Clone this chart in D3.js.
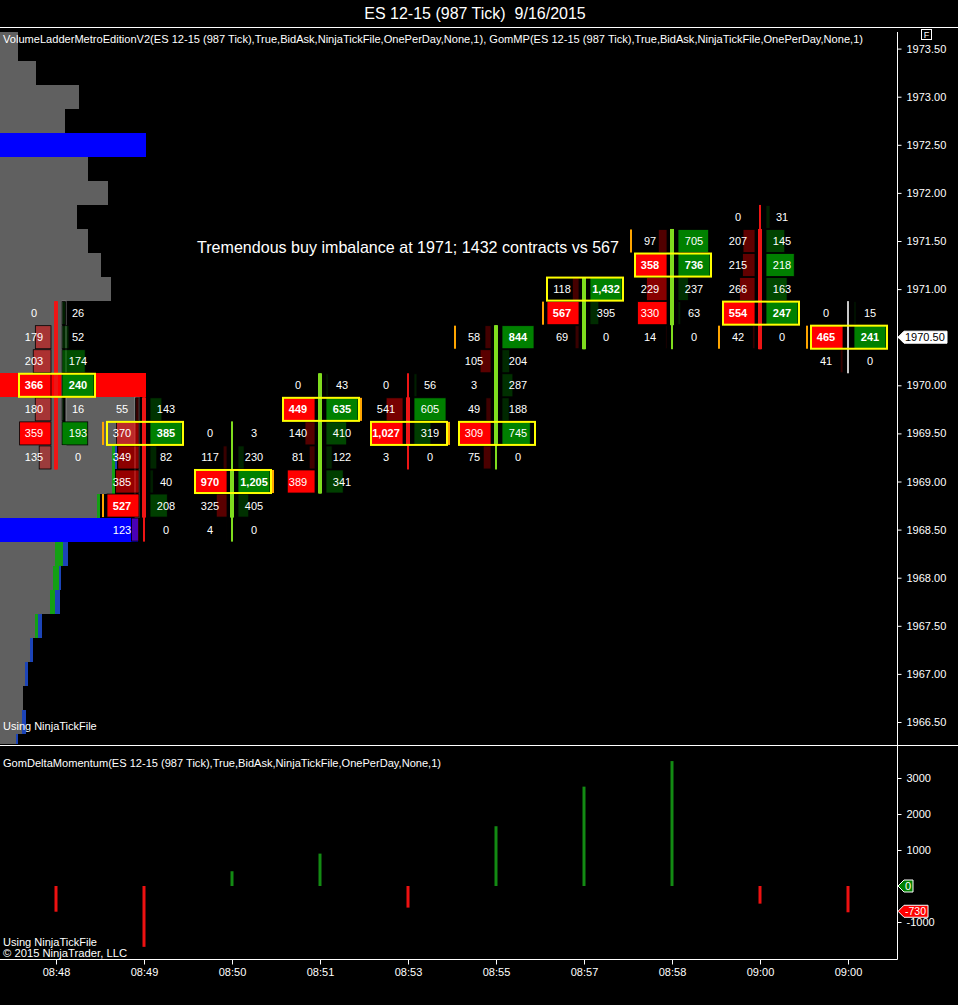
<!DOCTYPE html>
<html><head><meta charset="utf-8">
<script src="https://cdn.jsdelivr.net/npm/d3@7"></script>
<style>html,body{margin:0;padding:0;background:#000;overflow:hidden}</style>
</head><body><svg id="c" width="958" height="1005"></svg>
<script>
// ---------------- DATA ----------------
const titleText = "ES 12-15 (987 Tick)\u00a0\u00a09/16/2015";
const timeLabels = ["08:48","08:49","08:50","08:51","08:53","08:55","08:57","08:58","09:00","09:00"];
const priceTicks = [1973.5,1973,1972.5,1972,1971.5,1971,1970.5,1970,1969.5,1969,1968.5,1968,1967.5,1967,1966.5];
const deltaTicks = [3000,2000,1000,-1000];

const candleOpen  = [1970.75,1969.75,1968.75,1969.00,1969.75,1969.50,1970.50,1970.75,1971.50,1970.50];
const candleHigh  = [1970.75,1969.75,1969.50,1970.00,1970.00,1970.50,1971.00,1971.50,1971.75,1970.75];
const candleLow   = [1969.25,1968.50,1968.50,1969.00,1969.25,1969.25,1970.50,1970.50,1970.50,1970.25];
const candleClose = [1969.25,1968.75,1969.00,1970.00,1969.50,1970.50,1971.00,1971.50,1970.50,1970.50];

// [price, bid volume, ask volume, flags]  R/G = imbalance highlight, r/g = bold
const ladder0 = [[1970.75,0,26,""],[1970.50,179,52,""],[1970.25,203,174,""],[1970.00,366,240,"RrGg"],[1969.75,180,16,""],[1969.50,359,193,"RG"],[1969.25,135,0,""]];
const ladder1 = [[1969.75,55,143,""],[1969.50,370,385,"Gg"],[1969.25,349,82,""],[1969.00,385,40,""],[1968.75,527,208,"Rr"],[1968.50,123,0,""]];
const ladder2 = [[1969.50,0,3,""],[1969.25,117,230,""],[1969.00,970,1205,"RrGg"],[1968.75,325,405,""],[1968.50,4,0,""]];
const ladder3 = [[1970.00,0,43,""],[1969.75,449,635,"RrGg"],[1969.50,140,410,""],[1969.25,81,122,""],[1969.00,389,341,"R"]];
const ladder4 = [[1970.00,0,56,""],[1969.75,541,605,"G"],[1969.50,1027,319,"Rr"],[1969.25,3,0,""]];
const ladder5 = [[1970.50,58,844,"Gg"],[1970.25,105,204,""],[1970.00,3,287,""],[1969.75,49,188,""],[1969.50,309,745,"RG"],[1969.25,75,0,""]];
const ladder6 = [[1971.00,118,1432,"Gg"],[1970.75,567,395,"Rr"],[1970.50,69,0,""]];
const ladder7 = [[1971.50,97,705,"G"],[1971.25,358,736,"RrGg"],[1971.00,229,237,""],[1970.75,330,63,"R"],[1970.50,14,0,""]];
const ladder8 = [[1971.75,0,31,""],[1971.50,207,145,""],[1971.25,215,218,"G"],[1971.00,266,163,""],[1970.75,554,247,"RrGg"],[1970.50,42,0,""]];
const ladder9 = [[1970.75,0,15,""],[1970.50,465,241,"RrGg"],[1970.25,41,0,""]];
const ladders = [ladder0,ladder1,ladder2,ladder3,ladder4,ladder5,ladder6,ladder7,ladder8,ladder9];

const boxPrices = [1970.00,1969.50,1969.00,1969.75,1969.50,1969.50,1971.00,1971.25,1970.75,1970.50];
// [bar, price, side]
const markers = [[1,1969.50,"bid"],[1,1968.75,"bid"],[2,1969.00,"ask"],[3,1969.75,"ask"],[4,1969.50,"ask"],
                 [5,1970.50,"bid"],[6,1970.75,"bid"],[7,1971.50,"bid"],[8,1970.50,"bid"],[9,1970.50,"bid"]];
// [bar, top price, bottom price, side]
const ladderBodies = [[0,1970.75,1969.50,"ask"],[1,1969.75,1968.75,"bid"]];

// volume profile
const profilePrices = [1973.75,1973.5,1973.25,1973,1972.75,1972.5,1972.25,1972,1971.75,1971.5,1971.25,1971,1970.75,1970.5,1970.25,1970,
                       1969.75,1969.5,1969.25,1969,1968.75,1968.5,1968.25,1968,1967.75,1967.5,1967.25,1967,1966.75,1966.5,1966.25];
const profileVolume = [900,900,1800,3950,3250,7300,4400,5400,3850,4400,5050,5550,3200,3200,3200,7300,
                       6750,6900,5600,5600,4850,6900,2750,2650,2500,1750,1500,1250,1150,1100,800];
const profileGreen  = [0,0,0,0,0,0,0,0,0,0,0,0,0,0,0,0, 0,0,150,150,150,0,400,300,250,150,0,0,0,0,0];
const profileBlue   = [0,0,0,0,0,0,0,0,0,0,0,0,0,0,0,0, 0,0,100,0,0,0,250,100,250,200,150,150,0,200,100];
const pocPrice = 1970.00;
const valueAreaPrices = [1972.50,1968.50];

const deltaValues = [-714,-1690,410,900,-600,1660,2760,3470,-490,-730];
const lastPrice = 1970.50;

const indicatorLabel = "VolumeLadderMetroEditionV2(ES 12-15 (987 Tick),True,BidAsk,NinjaTickFile,OnePerDay,None,1), GomMP(ES 12-15 (987 Tick),True,BidAsk,NinjaTickFile,OnePerDay,None,1)";
const deltaLabel = "GomDeltaMomentum(ES 12-15 (987 Tick),True,BidAsk,NinjaTickFile,OnePerDay,None,1)";
const noteText = "Tremendous buy imbalance at 1971; 1432 contracts vs 567";

// ---------------- DRAW ----------------
const W = 958, H = 1005, FONT = "'Liberation Sans', Arial, sans-serif";
const svg = d3.select("#c");
svg.append("rect").attr("width", W).attr("height", H).attr("fill", "#000");

const x = d3.scalePoint().domain(d3.range(timeLabels.length)).range([12, 892]).padding(0.5);
const y = d3.scaleLinear().domain([1973, 1966.5]).range([96.7, 722]);
const yd = d3.scaleLinear().domain([-1000, 3000]).range([922, 778]);
const tick = y(1972.75) - y(1973);

svg.append("clipPath").attr("id", "mc").append("rect").attr("x", 0).attr("y", 32).attr("width", 896).attr("height", 712);
const main = svg.append("g").attr("clip-path", "url(#mc)");

// profile
const xp = d3.scaleLinear().domain([0, 7300]).range([0, 146]);
const prof = main.append("g").attr("shape-rendering", "crispEdges");
profilePrices.forEach((p, i) => {
  const top = Math.round(y(p) - tick / 2);
  const bot = Math.round(y(p) + tick / 2);
  const col = p === pocPrice ? "#ff0000" : (valueAreaPrices.includes(p) ? "#0000ff" : "#606060");
  const w = xp(profileVolume[i]);
  prof.append("rect").attr("x", 0).attr("y", top).attr("width", w).attr("height", bot - top).attr("fill", col);
  const gw = xp(profileGreen[i]), bw = xp(profileBlue[i]);
  if (gw > 0) prof.append("rect").attr("x", w).attr("y", top).attr("width", gw).attr("height", bot - top).attr("fill", "#14a014");
  if (bw > 0) prof.append("rect").attr("x", w + gw).attr("y", top).attr("width", bw).attr("height", bot - top).attr("fill", "#1c44b8");
});

// ladder candle bodies (hollow)
ladderBodies.forEach(([b, pt, pb, side]) => {
  const bx = x(b);
  main.append("rect").attr("x", side === "ask" ? bx + 6 : bx - 9).attr("y", y(pt) - tick / 2)
    .attr("width", 4).attr("height", y(pb) - y(pt) + tick)
    .attr("fill", "#000").attr("stroke", "#9a9a9a").attr("stroke-width", 0.8);
});

const fmt = d3.format(",");
const cellH = tick - 1;
// cells
ladders.forEach((rows, bi) => {
  const bx = x(bi);
  const maxBid = d3.max(rows, r => r[1]), maxAsk = d3.max(rows, r => r[2]);
  const wb = d3.scaleLinear().domain([0, maxBid]).range([0, 32]);
  const wa = d3.scaleLinear().domain([0, maxAsk]).range([0, 32]);
  rows.forEach(([p, b, a, f]) => {
    const cy = y(p);
    if (b > 0) main.append("rect").attr("x", bx - 5 - wb(b)).attr("y", cy - cellH / 2).attr("width", wb(b)).attr("height", cellH)
      .attr("fill", f.includes("R") ? "#ff0000" : `rgba(255,0,0,${0.15 + 0.6 * b / maxBid})`)
      .attr("stroke", "#000").attr("stroke-width", 0.8);
    if (a > 0) main.append("rect").attr("x", bx + 6).attr("y", cy - cellH / 2).attr("width", wa(a)).attr("height", cellH)
      .attr("fill", f.includes("G") ? "#008000" : `rgba(0,128,0,${0.18 + 0.58 * a / maxAsk})`)
      .attr("stroke", "#000").attr("stroke-width", 0.8);
  });
});

// GomMP candles
const upCol = "#7fdc1e", dnCol = "#ee1515", flatCol = "#c8c8c8";
timeLabels.forEach((t, i) => {
  const bx = x(i);
  const o = candleOpen[i], c = candleClose[i];
  const col = c > o ? upCol : (c < o ? dnCol : flatCol);
  main.append("rect").attr("x", bx - 1).attr("y", y(candleHigh[i]) - tick / 2).attr("width", 2)
    .attr("height", y(candleLow[i]) - y(candleHigh[i]) + tick).attr("fill", col);
  if (c !== o) {
    const hi = Math.max(o, c), lo = Math.min(o, c);
    main.append("rect").attr("x", bx - 2).attr("y", y(hi) - tick / 2).attr("width", 4)
      .attr("height", y(lo) - y(hi) + tick).attr("fill", col);
  }
});

// orange markers
markers.forEach(([b, p, side]) => {
  const bx = x(b);
  main.append("rect").attr("x", side === "bid" ? bx - 42 : bx + 40).attr("y", y(p) - cellH / 2)
    .attr("width", 2).attr("height", cellH).attr("fill", "#ffa500");
});

// yellow boxes
boxPrices.forEach((p, bi) => {
  const bx = x(bi);
  main.append("rect").attr("x", bx - 37).attr("y", y(p) - cellH / 2).attr("width", 76).attr("height", cellH)
    .attr("fill", "none").attr("stroke", "#ffff00").attr("stroke-width", 2);
});

// numbers
ladders.forEach((rows, bi) => {
  const bx = x(bi);
  rows.forEach(([p, b, a, f]) => {
    const cy = y(p) + 4;
    main.append("text").attr("x", bx - 22).attr("y", cy).attr("text-anchor", "middle")
      .attr("font-family", FONT).attr("font-size", 11).attr("fill", "#fff")
      .attr("font-weight", f.includes("r") ? "bold" : "normal").text(fmt(b));
    main.append("text").attr("x", bx + 22).attr("y", cy).attr("text-anchor", "middle")
      .attr("font-family", FONT).attr("font-size", 11).attr("fill", "#fff")
      .attr("font-weight", f.includes("g") ? "bold" : "normal").text(fmt(a));
  });
});

// annotation
main.append("text").attr("x", 197).attr("y", 253).attr("font-family", FONT).attr("font-size", 16.5)
  .attr("fill", "#fff").attr("textLength", 422).attr("lengthAdjust", "spacingAndGlyphs").text(noteText);

// main panel texts
svg.append("text").attr("x", 3).attr("y", 43).attr("font-family", FONT).attr("font-size", 11).attr("fill", "#fff")
  .attr("textLength", 860).attr("lengthAdjust", "spacingAndGlyphs").text(indicatorLabel);
svg.append("text").attr("x", 3).attr("y", 730).attr("font-family", FONT).attr("font-size", 11).attr("fill", "#fff").text("Using NinjaTickFile");

// delta panel
deltaValues.forEach((v, i) => {
  svg.append("rect").attr("x", x(i) - 1.5).attr("y", Math.min(yd(0), yd(v))).attr("width", 3)
    .attr("height", Math.abs(yd(v) - yd(0))).attr("fill", v >= 0 ? "#138a13" : "#ee1111");
});
svg.append("text").attr("x", 3).attr("y", 767).attr("font-family", FONT).attr("font-size", 11).attr("fill", "#fff")
  .attr("textLength", 438).attr("lengthAdjust", "spacingAndGlyphs").text(deltaLabel);
svg.append("text").attr("x", 3).attr("y", 946).attr("font-family", FONT).attr("font-size", 10.5).attr("fill", "#fff")
  .attr("textLength", 94).attr("lengthAdjust", "spacingAndGlyphs").text("Using NinjaTickFile");
svg.append("text").attr("x", 3).attr("y", 957).attr("font-family", FONT).attr("font-size", 10.5).attr("fill", "#fff")
  .attr("textLength", 124).attr("lengthAdjust", "spacingAndGlyphs").text("\u00a9 2015 NinjaTrader, LLC");

// frame lines
const line = (x1, y1, x2, y2) => svg.append("line").attr("x1", x1).attr("y1", y1).attr("x2", x2).attr("y2", y2)
  .attr("stroke", "#fff").attr("stroke-width", 1);
line(0, 27.5, 958, 27.5);
line(0, 745.5, 958, 745.5);
line(0, 959.5, 897.5, 959.5);
line(897.5, 32, 897.5, 959.5);

// title
svg.append("text").attr("x", 475).attr("y", 19).attr("text-anchor", "middle").attr("font-family", FONT)
  .attr("font-size", 16).attr("fill", "#fff").text(titleText);

// F box
svg.append("rect").attr("x", 921.5).attr("y", 29.5).attr("width", 10).attr("height", 10).attr("fill", "none").attr("stroke", "#fff");
svg.append("text").attr("x", 926.5).attr("y", 38).attr("text-anchor", "middle").attr("font-family", FONT)
  .attr("font-size", 9).attr("fill", "#fff").text("F");

function styleAxis(g) {
  g.select(".domain").remove();
  g.selectAll("line").attr("stroke", "#fff");
  g.selectAll("text").attr("fill", "#fff").attr("font-family", FONT).attr("font-size", 11);
}
svg.append("g").attr("transform", "translate(897.5,0)")
  .call(d3.axisRight(y).tickValues(priceTicks).tickFormat(d3.format(".2f")).tickSize(4).tickPadding(5)).call(styleAxis);
svg.append("g").attr("transform", "translate(897.5,0)")
  .call(d3.axisRight(yd).tickValues(deltaTicks).tickFormat(d => String(d)).tickSize(4).tickPadding(5)).call(styleAxis);
svg.append("g").attr("transform", "translate(0,959.5)")
  .call(d3.axisBottom(x).tickFormat(i => timeLabels[i]).tickSize(5).tickPadding(4)).call(styleAxis);

// price tags
function tag(yc, w, fill, stroke, txtCol, label, fs) {
  const h = 12, x0 = 898;
  svg.append("path").attr("d", `M${x0},${yc} L${x0 + 6},${yc - h / 2} L${x0 + w},${yc - h / 2} L${x0 + w},${yc + h / 2} L${x0 + 6},${yc + h / 2} Z`)
    .attr("fill", fill).attr("stroke", stroke).attr("stroke-width", 1);
  svg.append("text").attr("x", x0 + 7).attr("y", yc + 3.5).attr("font-family", FONT).attr("font-size", fs)
    .attr("fill", txtCol).text(label);
}
tag(y(lastPrice), 49, "#fff", "#fff", "#000", d3.format(".2f")(lastPrice), 11);
tag(yd(0), 15, "#008000", "#fff", "#fff", "0", 11);
const lastDelta = deltaValues[deltaValues.length - 1];
tag(yd(lastDelta) - 1, 30, "#ff0000", "#fff", "#fff", String(lastDelta), 10.5);
</script></body></html>
